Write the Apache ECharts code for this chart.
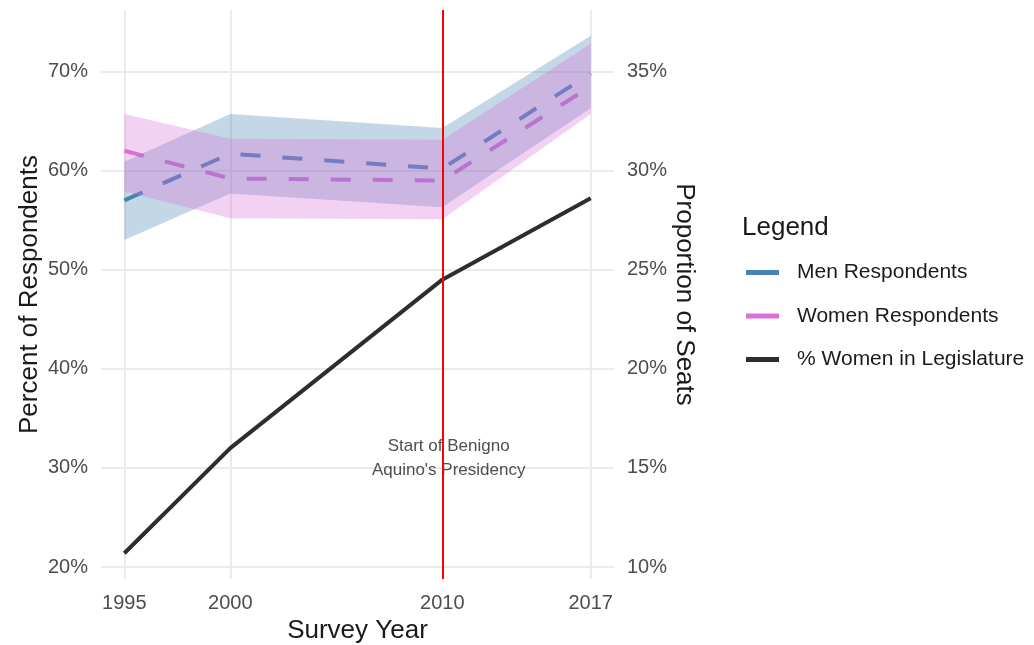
<!DOCTYPE html>
<html>
<head>
<meta charset="utf-8">
<script src="https://cdn.jsdelivr.net/npm/echarts@6/dist/echarts.min.js"></script>
<style>
  html, body { margin: 0; padding: 0; background: #ffffff; }
  #chart { width: 1034px; height: 645px; }
</style>
</head>
<body>
<div id="chart"></div>
<script>
// Survey years and tick values
const years = [1995, 2000, 2010, 2017];
const leftTicks = [20, 30, 40, 50, 60, 70];
const rightTicks = [10, 15, 20, 25, 30, 35];
const presidencyYear = 2010;

// Share of respondents (%) with confidence band
const menMean = [57.0, 61.7, 60.2, 69.8];
const menLower = [53.0, 57.7, 56.3, 66.3];
const menUpper = [60.9, 65.7, 64.3, 73.6];
const womenMean = [62.0, 59.2, 59.0, 68.5];
const womenLower = [57.9, 55.2, 55.1, 65.7];
const womenUpper = [65.7, 63.2, 63.1, 72.8];

// Proportion of legislature seats held by women (%)
const legislatureShare = [10.7, 16.0, 24.5, 28.6];

const FONT = '"Liberation Sans", Arial, Helvetica, sans-serif';
const MEN_COLOR = '#4682B4';
const WOMEN_COLOR = '#DA70D6';
const LEG_COLOR = '#2D2D2D';

const xy = vals => years.map((y, i) => [y, vals[i]]);

// Shaded ribbon between a lower and an upper bound, drawn as one polygon
function ribbon(lo, hi, fill) {
  return {
    type: 'custom', silent: true, z: 3, clip: true,
    data: [[years[0], lo[0]]],
    renderItem: (params, api) => {
      const top = years.map((y, i) => api.coord([y, hi[i]]));
      const bottom = years.map((y, i) => api.coord([y, lo[i]])).reverse();
      return {
        type: 'polygon',
        shape: { points: top.concat(bottom) },
        style: { fill: fill }
      };
    }
  };
}

const chart = echarts.init(document.getElementById('chart'), null, { renderer: 'canvas' });

chart.setOption({
  animation: false,
  backgroundColor: '#ffffff',
  textStyle: { fontFamily: FONT },
  title: {
    text: 'Legend', left: 742, top: 215, padding: 0,
    textStyle: { fontFamily: FONT, fontSize: 26, fontWeight: 'normal', color: '#1a1a1a' }
  },
  legend: {
    orient: 'vertical', left: 746, top: 261.5, padding: 0,
    icon: 'rect', itemWidth: 33, itemHeight: 5, itemGap: 21.5,
    selectedMode: false,
    itemStyle: { borderWidth: 0 },
    textStyle: { fontFamily: FONT, fontSize: 21, color: '#1a1a1a', lineHeight: 22, padding: [0, 0, 0, 13] },
    data: [
      { name: 'Men Respondents', itemStyle: { color: MEN_COLOR } },
      { name: 'Women Respondents', itemStyle: { color: WOMEN_COLOR } },
      { name: '% Women in Legislature', itemStyle: { color: LEG_COLOR } }
    ]
  },
  grid: { left: 101, right: 420, top: 10, bottom: 66, outerBoundsMode: 'none' },
  xAxis: {
    type: 'value', min: 1993.9, max: 2018.1,
    name: 'Survey Year', nameLocation: 'middle', nameGap: 38,
    nameTextStyle: { fontFamily: FONT, fontSize: 26, color: '#1a1a1a' },
    axisLine: { show: false },
    axisTick: { show: false, customValues: years },
    axisLabel: { customValues: years, margin: 14, fontSize: 20, color: '#4D4D4D', fontFamily: FONT, formatter: v => String(v) },
    splitLine: { show: true, lineStyle: { color: '#EBEBEB', width: 2 } }
  },
  yAxis: [
    {
      type: 'value', min: 18.8, max: 76.2, position: 'left',
      name: 'Percent of Respondents', nameLocation: 'middle', nameGap: 58,
      nameTextStyle: { fontFamily: FONT, fontSize: 26, color: '#1a1a1a' },
      axisLine: { show: false },
      axisTick: { show: false, customValues: leftTicks },
      axisLabel: { customValues: leftTicks, margin: 13, fontSize: 20, color: '#4D4D4D', fontFamily: FONT, formatter: v => v + '%' },
      splitLine: { show: true, lineStyle: { color: '#EBEBEB', width: 2 } }
    },
    {
      type: 'value', min: 9.4, max: 38.1, position: 'right',
      name: 'Proportion of Seats', nameLocation: 'middle', nameGap: 56, nameRotate: -90,
      nameTextStyle: { fontFamily: FONT, fontSize: 26, color: '#1a1a1a' },
      axisLine: { show: false },
      axisTick: { show: false, customValues: rightTicks },
      axisLabel: { customValues: rightTicks, margin: 13, fontSize: 20, color: '#4D4D4D', fontFamily: FONT, formatter: v => v + '%' },
      splitLine: { show: false }
    }
  ],
  series: [
    {
      name: 'Men Respondents', type: 'line', data: xy(menMean), symbol: 'none', z: 2,
      color: MEN_COLOR,
      lineStyle: { color: MEN_COLOR, width: 4, type: [20, 22] }
    },
    {
      name: 'Women Respondents', type: 'line', data: xy(womenMean), symbol: 'none', z: 2,
      color: WOMEN_COLOR,
      lineStyle: { color: WOMEN_COLOR, width: 4, type: [20, 22] }
    },
    ribbon(menLower, menUpper, 'rgba(70,130,180,0.32)'),
    ribbon(womenLower, womenUpper, 'rgba(218,112,214,0.32)'),
    {
      name: '% Women in Legislature', type: 'line', yAxisIndex: 1,
      data: xy(legislatureShare), symbol: 'none', z: 4,
      color: LEG_COLOR,
      lineStyle: { color: LEG_COLOR, width: 4 },
      markLine: {
        silent: true, symbol: 'none', z: 6,
        label: { show: false },
        lineStyle: { color: '#FF0000', width: 2, type: 'solid' },
        data: [{ xAxis: presidencyYear }]
      }
    },
    {
      type: 'scatter', silent: true, z: 5, symbolSize: 0,
      data: [[2010.3, 31]],
      label: {
        show: true, position: 'inside',
        formatter: "Start of Benigno\nAquino's Presidency",
        fontFamily: FONT, fontSize: 17, lineHeight: 24, color: '#222222', align: 'center'
      }
    }
  ]
});
</script>
</body>
</html>
